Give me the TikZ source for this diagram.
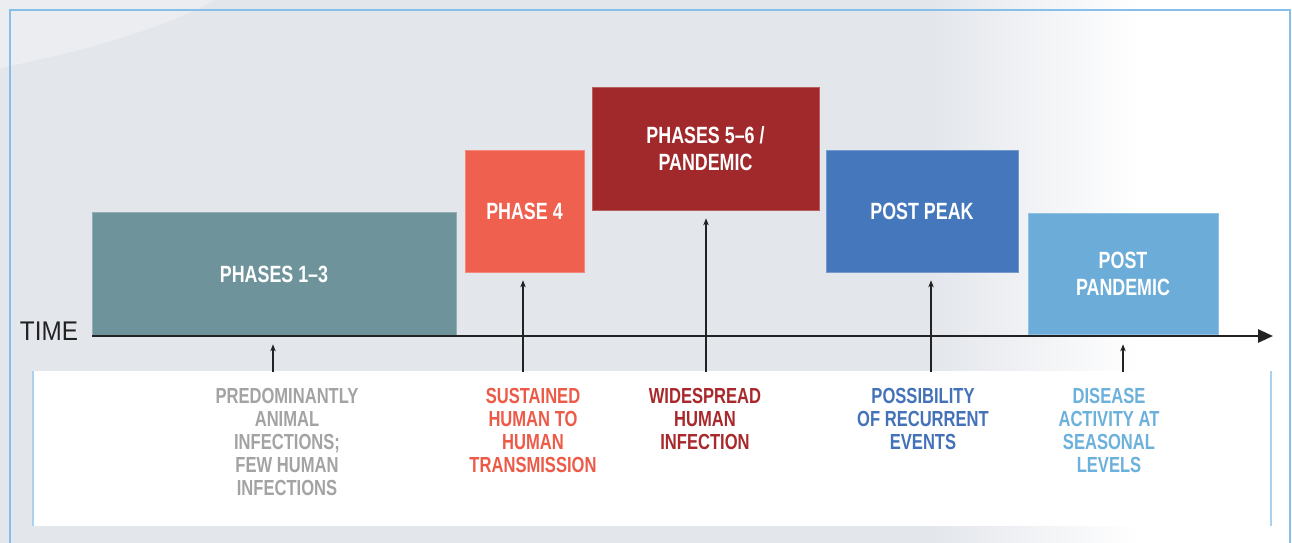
\documentclass[tikz,border=0pt]{standalone}
\usepackage{fontspec}
\setmainfont{Liberation Sans}
\newfontfamily\cond{Liberation Sans}[FakeStretch=0.76]
\newfontfamily\timefont{Liberation Sans}[FakeStretch=0.9]
\usetikzlibrary{arrows.meta}
\definecolor{bggray}{HTML}{E3E6EB}
\definecolor{frameblue}{HTML}{86BFEA}
\definecolor{cA}{HTML}{6F939B}
\definecolor{cB}{HTML}{F0604E}
\definecolor{cC}{HTML}{A1292C}
\definecolor{cD}{HTML}{4577BC}
\definecolor{cE}{HTML}{6BADD8}
\definecolor{tA}{HTML}{A3A3A3}
\definecolor{tB}{HTML}{EE5A48}
\definecolor{tC}{HTML}{A8282C}
\definecolor{tD}{HTML}{4472B8}
\definecolor{tE}{HTML}{6CB0DC}
\definecolor{axiscol}{HTML}{222222}
\begin{document}
\begin{tikzpicture}[x=1pt,y=-1pt,
  phasebox/.style={fill=#1, draw=#1!75!white, line width=0.7pt, inner sep=0pt,
    text=white, align=center, font=\cond\bfseries\fontsize{23.5}{27}\selectfont},
  lbl/.style={text=#1, align=center, inner sep=0pt, anchor=north,
    font=\cond\bfseries\fontsize{21.8}{23}\selectfont},
  uparrow/.style={draw=axiscol, line width=1.2pt, -{Stealth[length=7pt,width=5.5pt]}, shorten >=8pt},
  axis/.style={draw=axiscol, line width=2.6pt, -{Triangle[length=15pt,width=13pt]}}
]
\useasboundingbox (0,0) rectangle (1292,543);
% background
\fill[bggray] (0,0) rectangle (1292,543);
\shade[left color=bggray, right color=white] (930,0) rectangle (1140,543);
\fill[white] (1140,0) rectangle (1292,543);
\fill[white, opacity=0.3] (0,0) -- (0,68) .. controls (80,52) and (160,30) .. (215,0) -- cycle;
% frame
\draw[frameblue, line width=1.6pt] (10,545) -- (10,10) -- (1290,10) -- (1290,545);
% white panel
\fill[white] (33,371) rectangle (1271,526);
\draw[frameblue!70, line width=1.2pt] (33,371) -- (33,526);
\draw[frameblue!70, line width=1.2pt] (1271,371) -- (1271,526);

% phase boxes
\node[phasebox=cA, minimum width=364pt, minimum height=124pt] (p13) at (274,274) {PHASES 1\textendash3};
\node[phasebox=cB, minimum width=119pt, minimum height=122pt] (p4) at (524.5,211) {PHASE 4};
\node[phasebox=cC, minimum width=227pt, minimum height=123pt] (p56) at (705.5,148.5) {PHASES 5\textendash6 /\\PANDEMIC};
\node[phasebox=cD, minimum width=192pt, minimum height=122pt] (pp) at (922,211) {POST PEAK};
\node[phasebox=cE, minimum width=190pt, minimum height=121pt] (ppd) at (1123,273.5) {POST\\PANDEMIC};

% time axis
\coordinate (axs) at (92,336);
\coordinate (axe) at (1273,336);
\draw[axis] (axs) -- (axe);
\node[text=axiscol, font=\timefont\fontsize{27}{27}\selectfont, inner sep=0pt] (time) at (49,331) {TIME};

% labels
\node[lbl=tA] (l1) at (287,388) {PREDOMINANTLY\\ANIMAL\\INFECTIONS;\\FEW HUMAN\\INFECTIONS};
\node[lbl=tB] (l2) at (533,388) {SUSTAINED\\HUMAN TO\\HUMAN\\TRANSMISSION};
\node[lbl=tC] (l3) at (705,388) {WIDESPREAD\\HUMAN\\INFECTION};
\node[lbl=tD] (l4) at (923,388) {POSSIBILITY\\OF RECURRENT\\EVENTS};
\node[lbl=tE] (l5) at (1109,388) {DISEASE\\ACTIVITY AT\\SEASONAL\\LEVELS};

% arrows
\coordinate (a1) at (273,372);
\coordinate (a2) at (523,372);
\coordinate (a3) at (706,372);
\coordinate (a4) at (931,372);
\coordinate (a5) at (1123,372);
\draw[uparrow] (a1) -- (a1 |- p13.south);
\draw[uparrow] (a2) -- (a2 |- p4.south);
\draw[uparrow] (a3) -- (a3 |- p56.south);
\draw[uparrow] (a4) -- (a4 |- pp.south);
\draw[uparrow] (a5) -- (a5 |- p13.south);
\end{tikzpicture}
\end{document}
